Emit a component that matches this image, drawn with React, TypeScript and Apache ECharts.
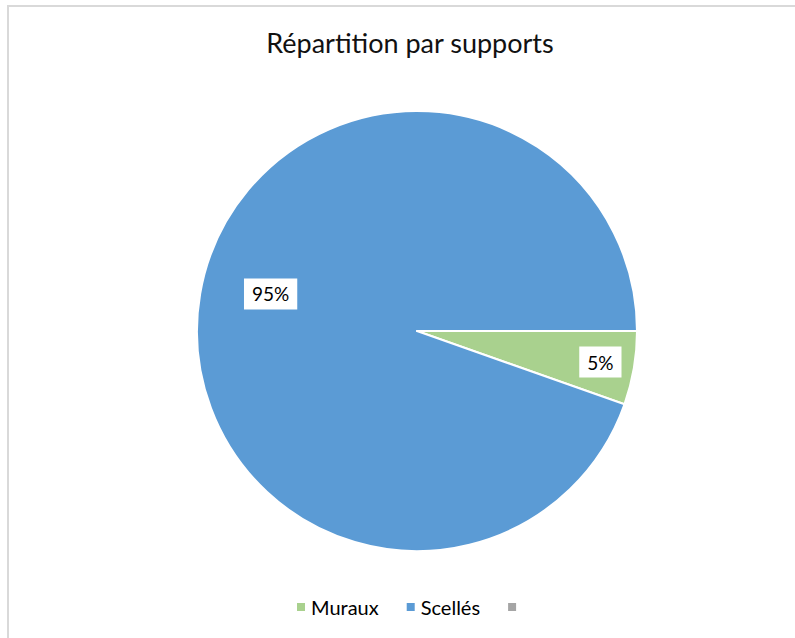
import React, { useEffect, useRef } from "react";
import * as echarts from "echarts";

const title = "Répartition par supports";
const categories = ["Muraux", "Scellés", " "];
const values = [5.4, 94.6, 0];
const colors = ["#a9d18e", "#5b9bd5", "#a5a5a5"];
const labelOffsets = [[72, 12], [-35, -18], [0, 0]];

const FONT = "Lato, 'Open Sans', sans-serif";

export default function App() {
  const ref = useRef<HTMLDivElement>(null);
  useEffect(() => {
    const chart = echarts.init(ref.current!, null, { renderer: "svg" });
    chart.setOption({
      animation: false,
      backgroundColor: "#ffffff",
      title: {
        text: title,
        left: 405,
        top: 24,
        textAlign: "center",
        textStyle: { fontFamily: FONT, fontSize: 27, fontWeight: "normal", color: "#111" },
      },
      legend: {
        data: categories,
        left: 290,
        bottom: 16,
        itemWidth: 10,
        itemHeight: 10,
        itemGap: 26,
        icon: "rect",
        textStyle: { fontFamily: FONT, fontSize: 20, color: "#000" },
      },
      graphic: [
        {
          type: "rect",
          shape: { x: 8, y: 6, width: 900, height: 800 },
          style: { fill: "none", stroke: "#d9d9d9", lineWidth: 2 },
          silent: true,
        },
      ],
      series: [
        {
          type: "pie",
          center: [417, 331],
          radius: 220,
          startAngle: 0,
          clockwise: true,
          avoidLabelOverlap: false,
          itemStyle: { borderColor: "#ffffff", borderWidth: 2 },
          label: {
            show: true,
            position: "inside",
            formatter: (p: any) => Math.round(p.percent) + "%",
            fontFamily: FONT,
            fontSize: 19,
            color: "#000",
            backgroundColor: "#ffffff",
            padding: [6, 8],
          },
          labelLine: { show: false },
          emphasis: { disabled: true },
          data: categories.map((name, i) => ({
            name,
            value: values[i],
            itemStyle: { color: colors[i] },
            label: values[i] === 0 ? { show: false } : { offset: labelOffsets[i] },
          })),
        },
      ],
    });
    return () => chart.dispose();
  }, []);
  return (
    <div
      ref={ref}
      style={{ position: "fixed", left: 0, top: 0, width: 795, height: 638 }}
    />
  );
}
